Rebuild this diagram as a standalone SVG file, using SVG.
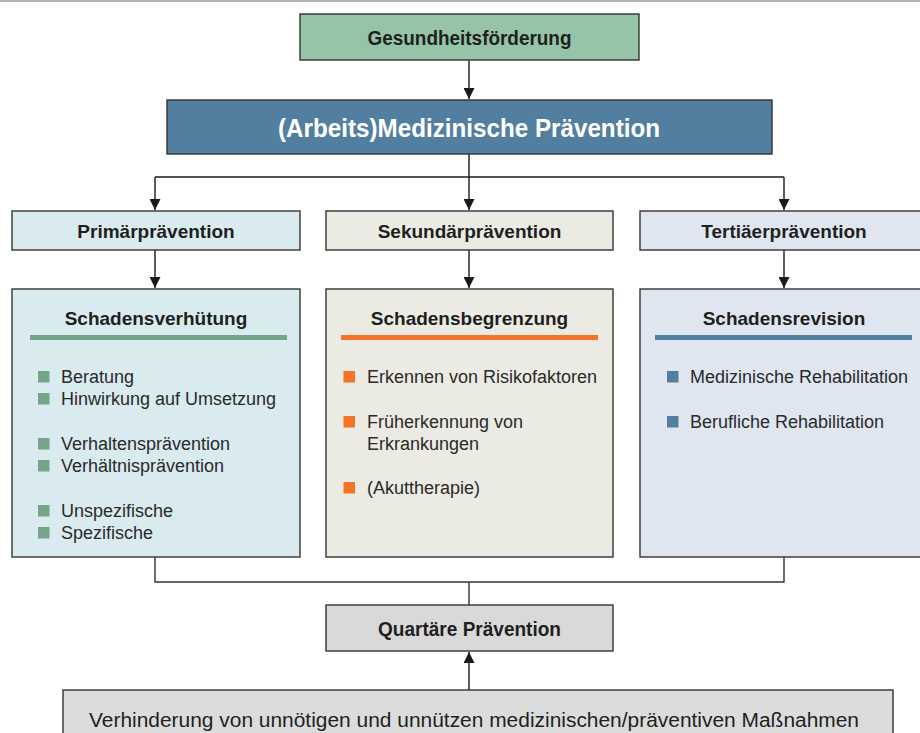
<svg xmlns="http://www.w3.org/2000/svg" width="920" height="733" viewBox="0 0 920 733">
<style>
.t{font-family:"Liberation Sans",Arial,sans-serif;fill:#1f1f1f}
.b{font-weight:bold}
.h{font-size:19px;font-weight:bold;text-anchor:middle}
.li{font-size:18px;fill:#2a2a2a}
.box{stroke:#333;stroke-width:1.4}
.con{fill:none;stroke:#1a1a1a;stroke-width:1.4}
</style>
<defs>
<marker id="ah" viewBox="0 0 10 10" refX="10" refY="5" markerWidth="11" markerHeight="11" markerUnits="userSpaceOnUse" orient="auto"><path d="M0,0 L10,5 L0,10 z" fill="#1a1a1a"/></marker>
</defs>
<rect width="920" height="733" fill="#ffffff"/>
<rect x="0" y="0" width="920" height="2" fill="#b4b4b4"/>

<g id="connectors">
<path class="con" d="M469,60 V99" marker-end="url(#ah)"/>
<path class="con" d="M469,154 V177 M155,177 H784"/>
<path class="con" d="M155,177 V210" marker-end="url(#ah)"/>
<path class="con" d="M469,177 V210" marker-end="url(#ah)"/>
<path class="con" d="M784,177 V210" marker-end="url(#ah)"/>
<path class="con" d="M155,250 V288" marker-end="url(#ah)"/>
<path class="con" d="M469,250 V288" marker-end="url(#ah)"/>
<path class="con" d="M784,250 V288" marker-end="url(#ah)"/>
<path class="con" d="M155,557 V582 H784 V557 M469,582 V605" style="stroke:#333"/>
<path class="con" d="M469,690 V652" marker-end="url(#ah)"/>
</g>

<g id="gesundheitsfoerderung">
<rect class="box" x="300" y="14" width="339" height="46" fill="#95c4a9"/>
<text class="t b" x="469.5" y="45" font-size="20" text-anchor="middle" textLength="204" lengthAdjust="spacingAndGlyphs">Gesundheitsförderung</text>
</g>

<g id="medizinische-praevention">
<rect class="box" x="167" y="100" width="605" height="54" fill="#527fa0"/>
<text class="t b" x="469" y="137" font-size="26" text-anchor="middle" style="fill:#ffffff" textLength="382" lengthAdjust="spacingAndGlyphs">(Arbeits)Medizinische Prävention</text>
</g>

<g id="primaerpraevention">
<rect class="box" x="12" y="211" width="288" height="39" fill="#d9ebee"/>
<text class="t h" x="156" y="238">Primärprävention</text>
</g>
<g id="sekundaerpraevention">
<rect class="box" x="326" y="211" width="287" height="39" fill="#ebebe3"/>
<text class="t h" x="469.5" y="238">Sekundärprävention</text>
</g>
<g id="tertiaerpraevention">
<rect class="box" x="640" y="211" width="290" height="39" fill="#dfe6f0"/>
<text class="t h" x="784" y="238">Tertiäerprävention</text>
</g>

<g id="schadensverhuetung">
<rect class="box" x="12" y="289" width="288" height="268" fill="#d9ebee"/>
<text class="t h" x="156" y="325">Schadensverhütung</text>
<rect x="30" y="335" width="257" height="5" fill="#76a38b"/>
<g fill="#76a38b">
<rect x="38" y="371" width="11.5" height="11.5"/>
<rect x="38" y="393" width="11.5" height="11.5"/>
<rect x="38" y="438" width="11.5" height="11.5"/>
<rect x="38" y="460" width="11.5" height="11.5"/>
<rect x="38" y="505" width="11.5" height="11.5"/>
<rect x="38" y="527" width="11.5" height="11.5"/>
</g>
<text class="t li" x="61" y="383">Beratung</text>
<text class="t li" x="61" y="405">Hinwirkung auf Umsetzung</text>
<text class="t li" x="61" y="450">Verhaltensprävention</text>
<text class="t li" x="61" y="472">Verhältnisprävention</text>
<text class="t li" x="61" y="517">Unspezifische</text>
<text class="t li" x="61" y="539">Spezifische</text>
</g>

<g id="schadensbegrenzung">
<rect class="box" x="326" y="289" width="287" height="268" fill="#ebebe3"/>
<text class="t h" x="469.5" y="325">Schadensbegrenzung</text>
<rect x="341" y="335" width="257" height="5" fill="#f37327"/>
<g fill="#f37327">
<rect x="343.5" y="371" width="11.5" height="11.5"/>
<rect x="343.5" y="416" width="11.5" height="11.5"/>
<rect x="343.5" y="482" width="11.5" height="11.5"/>
</g>
<text class="t li" x="367" y="383">Erkennen von Risikofaktoren</text>
<text class="t li" x="367" y="428">Früherkennung von</text>
<text class="t li" x="367" y="450">Erkrankungen</text>
<text class="t li" x="367" y="494">(Akuttherapie)</text>
</g>

<g id="schadensrevision">
<rect class="box" x="640" y="289" width="290" height="268" fill="#dfe6f0"/>
<text class="t h" x="784" y="325">Schadensrevision</text>
<rect x="655" y="335" width="257" height="5" fill="#527fa0"/>
<g fill="#527fa0">
<rect x="667" y="371" width="11.5" height="11.5"/>
<rect x="667" y="416" width="11.5" height="11.5"/>
</g>
<text class="t li" x="690" y="383">Medizinische Rehabilitation</text>
<text class="t li" x="690" y="428">Berufliche Rehabilitation</text>
</g>

<g id="quartaere-praevention">
<rect class="box" x="326" y="605" width="287" height="46" fill="#d9d9d9"/>
<text class="t b" x="469.5" y="636" font-size="20" text-anchor="middle" textLength="183" lengthAdjust="spacingAndGlyphs">Quartäre Prävention</text>
</g>

<g id="verhinderung">
<rect class="box" x="63" y="690" width="830" height="60" fill="#dcdcdc"/>
<text class="t" x="474" y="727" font-size="20" text-anchor="middle" textLength="770" lengthAdjust="spacingAndGlyphs">Verhinderung von unnötigen und unnützen medizinischen/präventiven Maßnahmen</text>
</g>
</svg>
